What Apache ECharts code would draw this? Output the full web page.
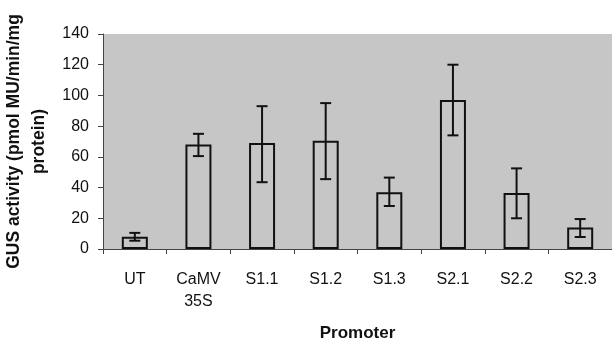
<!DOCTYPE html>
<html>
<head>
<meta charset="utf-8">
<script src="https://cdn.jsdelivr.net/npm/echarts@6/dist/echarts.min.js"></script>
<style>html,body{margin:0;padding:0;background:#fff}#c{width:612px;height:340px}</style>
</head>
<body>
<div id="c"></div>
<script>
const categories = ['UT', 'CaMV\n35S', 'S1.1', 'S1.2', 'S1.3', 'S2.1', 'S2.2', 'S2.3'];
const gusActivity = [8, 68, 69, 70.5, 37, 97, 36.5, 14];
const errLow = [5.4, 60.5, 43.5, 45.5, 28, 74, 20, 7.8];
const errHigh = [10.5, 75, 93, 95, 46.5, 120, 52.5, 19.5];
const yTicks = [0, 20, 40, 60, 80, 100, 120, 140];

const chart = echarts.init(document.getElementById('c'), null, {renderer: 'canvas'});
const errData = categories.map((c, i) => [i, errLow[i], errHigh[i]]);
chart.setOption({
  animation: false,
  backgroundColor: '#ffffff',
  textStyle: {fontFamily: 'Liberation Sans'},
  grid: {left: 103, right: 0, top: 34, bottom: 91, show: true, backgroundColor: '#c6c6c6', borderWidth: 0,
         containLabel: false, outerBoundsMode: 'none'},
  xAxis: {
    type: 'category', data: categories,
    axisLine: {lineStyle: {color: '#444', width: 1}},
    axisTick: {show: true, length: 5, lineStyle: {color: '#444'}},
    axisLabel: {color: '#111', fontSize: 16, lineHeight: 22, margin: 20, fontFamily: 'Liberation Sans'},
    name: 'Promoter', nameLocation: 'middle', nameGap: 76,
    nameTextStyle: {fontWeight: 'bold', fontSize: 17, color: '#111', fontFamily: 'Liberation Sans'}
  },
  yAxis: {
    type: 'value', min: yTicks[0], max: yTicks[yTicks.length - 1], interval: 20,
    axisLine: {show: true, lineStyle: {color: '#444', width: 1}},
    axisTick: {show: true, length: 5, lineStyle: {color: '#444'}},
    splitLine: {show: false},
    axisLabel: {color: '#111', fontSize: 16, margin: 14, fontFamily: 'Liberation Sans'},
    name: 'GUS activity (pmol MU/min/mg\nprotein)', nameLocation: 'middle', nameRotate: 90, nameGap: 43,
    nameTextStyle: {fontWeight: 'bold', fontSize: 17.5, lineHeight: 25, color: '#111', align: 'center', fontFamily: 'Liberation Sans'}
  },
  series: [
    {
      type: 'bar', data: gusActivity, barWidth: 26,
      itemStyle: {color: 'rgba(0,0,0,0)', borderColor: '#111', borderWidth: 2}
    },
    {
      type: 'custom', data: errData, z: 5,
      renderItem: function (params, api) {
        const x = api.value(0);
        const lo = api.coord([x, api.value(1)]);
        const hi = api.coord([x, api.value(2)]);
        const hw = 5.5;
        const st = {stroke: '#111', lineWidth: 2};
        return {type: 'group', children: [
          {type: 'line', shape: {x1: lo[0], y1: lo[1], x2: hi[0], y2: hi[1]}, style: st},
          {type: 'line', shape: {x1: lo[0] - hw, y1: lo[1], x2: lo[0] + hw, y2: lo[1]}, style: st},
          {type: 'line', shape: {x1: hi[0] - hw, y1: hi[1], x2: hi[0] + hw, y2: hi[1]}, style: st}
        ]};
      }
    }
  ]
});
</script>
</body>
</html>
